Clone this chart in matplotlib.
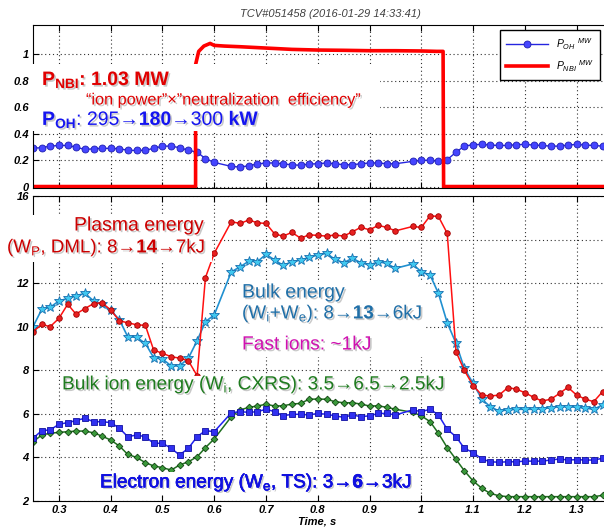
import matplotlib
matplotlib.use('Agg')
import matplotlib.pyplot as plt
import matplotlib.patheffects as pe
from matplotlib.patches import Rectangle

plt.rcParams['font.family'] = ['Liberation Sans', 'DejaVu Sans']
plt.rcParams['mathtext.fontset'] = 'custom'
plt.rcParams['mathtext.rm'] = 'Liberation Sans'
plt.rcParams['mathtext.it'] = 'Liberation Sans:italic'
plt.rcParams['mathtext.bf'] = 'Liberation Sans:bold'

# 1. data
t = [0.250, 0.267, 0.283, 0.300, 0.317, 0.333, 0.350, 0.367, 0.383, 0.400, 0.417,
     0.433, 0.450, 0.467, 0.483, 0.500, 0.517, 0.533, 0.550, 0.567, 0.583, 0.600,
     0.633, 0.650, 0.667, 0.683, 0.700, 0.717, 0.733, 0.750, 0.767, 0.783, 0.800,
     0.817, 0.833, 0.850, 0.867, 0.883, 0.900, 0.917, 0.933, 0.950,
     0.983, 1.000, 1.017, 1.033, 1.050, 1.067, 1.083, 1.100, 1.117, 1.133, 1.150,
     1.167, 1.183, 1.200, 1.217, 1.233, 1.250, 1.267, 1.283, 1.300, 1.317, 1.333, 1.350]

p_oh = [0.290, 0.293, 0.305, 0.310, 0.310, 0.297, 0.280, 0.285, 0.288, 0.288, 0.285,
        0.274, 0.272, 0.274, 0.288, 0.305, 0.305, 0.293, 0.274, 0.259, 0.211, 0.182,
        0.152, 0.147, 0.157, 0.170, 0.178, 0.178, 0.170, 0.165, 0.160, 0.170, 0.172,
        0.178, 0.172, 0.165, 0.165, 0.172, 0.178, 0.178, 0.172, 0.172,
        0.190, 0.198, 0.198, 0.190, 0.203, 0.259, 0.305, 0.316, 0.318, 0.313, 0.310,
        0.310, 0.316, 0.318, 0.313, 0.310, 0.305, 0.305, 0.313, 0.318, 0.313, 0.310, 0.305]

t_nbi = [0.250, 0.564, 0.564, 0.570, 0.580, 0.592, 0.600, 0.620, 0.650, 0.700, 0.750,
         0.800, 0.850, 0.900, 0.950, 1.000, 1.030, 1.042, 1.043, 1.350]
p_nbi = [0.0, 0.0, 0.92, 1.02, 1.06, 1.08, 1.065, 1.060, 1.055, 1.045, 1.035,
         1.030, 1.028, 1.025, 1.025, 1.023, 1.020, 1.020, 0.0, 0.0]

w_plasma = [9.77, 10.11, 10.00, 10.38, 11.03, 10.58, 10.83, 11.06, 11.10, 10.77, 10.27,
            10.18, 10.09, 10.06, 8.93, 8.78, 8.62, 8.56, 8.44, 7.75, 12.25, 13.37,
            14.82, 14.74, 14.90, 14.77, 14.74, 14.25, 14.16, 14.33, 14.06, 14.22, 14.19,
            14.16, 14.21, 14.16, 14.36, 14.56, 14.45, 14.65, 14.56, 14.40,
            14.60, 14.56, 15.09, 15.06, 14.29, 8.85, 8.00, 7.30, 6.86, 6.82, 6.86,
            7.20, 7.14, 6.97, 6.76, 6.59, 6.67, 6.94, 7.22, 6.86, 6.67, 6.56, 7.02]

w_bulk = [10.00, 10.80, 10.89, 11.18, 11.30, 11.42, 11.53, 11.19, 11.04, 10.77, 10.31,
          9.54, 9.51, 9.24, 8.58, 8.52, 8.20, 8.20, 8.55, 9.36, 10.23, 10.54,
          12.52, 12.75, 13.01, 12.98, 13.32, 13.06, 12.82, 12.98, 13.06, 13.18, 13.29,
          13.37, 13.09, 12.94, 13.14, 12.94, 12.83, 12.98, 12.91, 12.68,
          12.88, 12.52, 12.37, 11.53, 10.18, 9.24, 8.09, 7.40, 6.67, 6.33, 6.13,
          6.18, 6.21, 6.21, 6.21, 6.24, 6.28, 6.33, 6.33, 6.30, 6.26, 6.21, 6.41]

w_ion = [4.72, 5.03, 5.11, 5.15, 5.18, 5.21, 5.21, 5.13, 4.98, 4.80, 4.52,
         4.14, 4.00, 3.76, 3.61, 3.53, 3.42, 3.65, 3.80, 4.03, 4.45, 4.85,
         5.87, 6.18, 6.30, 6.36, 6.44, 6.36, 6.37, 6.45, 6.48, 6.67, 6.68,
         6.67, 6.56, 6.51, 6.51, 6.45, 6.36, 6.37, 6.30, 6.21,
         6.07, 5.91, 5.64, 5.11, 4.45, 3.91, 3.39, 2.92, 2.58, 2.35, 2.24,
         2.20, 2.20, 2.20, 2.20, 2.20, 2.20, 2.20, 2.20, 2.20, 2.20, 2.20, 2.26]

w_el = [4.88, 5.23, 5.26, 5.52, 5.60, 5.69, 5.80, 5.64, 5.64, 5.60, 5.34,
        4.95, 5.03, 4.95, 4.65, 4.65, 4.42, 4.11, 4.42, 4.95, 5.23, 5.18,
        6.05, 6.10, 6.07, 6.10, 6.21, 6.10, 5.91, 5.98, 5.98, 5.95, 6.02,
        5.98, 5.91, 5.84, 5.95, 5.87, 5.91, 6.02, 6.02, 5.95,
        6.18, 6.10, 6.21, 5.95, 5.29, 4.95, 4.42, 4.22, 3.93, 3.80, 3.78,
        3.80, 3.80, 3.83, 3.83, 3.83, 3.88, 3.93, 3.88, 3.90, 3.88, 3.88, 3.96]

xticks = [0.3, 0.4, 0.5, 0.6, 0.7, 0.8, 0.9, 1.0, 1.1, 1.2, 1.3]
xticklabels = ['0.3', '0.4', '0.5', '0.6', '0.7', '0.8', '0.9', '1', '1.1', '1.2', '1.3']
yticks_top = [0, 0.2, 0.4, 0.6, 0.8, 1.0]
yticklabels_top = ['0', '0.2', '0.4', '0.6', '0.8', '1']
yticks_bot = [2, 4, 6, 8, 10, 12, 14, 16]
yticklabels_bot = ['2', '4', '6', '8', '10', '12', '', '16']  # 14 sits under the text box


# 2. figure, pixel helpers
W, H = 604, 532
fig = plt.figure(figsize=(W / 100, H / 100), dpi=100)

def fx(x):
    return x / W

def fy(y):
    return 1 - y / H

ax1 = fig.add_axes([fx(33), fy(188), (630 - 33) / W, (188 - 25) / H])
ax2 = fig.add_axes([fx(33), fy(501), (630 - 33) / W, (501 - 196) / H])

grid_style = dict(linestyle=(0, (1, 2.5)), color='#303030', linewidth=0.8)
for ax in (ax1, ax2):
    ax.set_xlim(0.25, 1.403)
    ax.set_xticks(xticks)
    ax.grid(True, **grid_style)
    ax.set_axisbelow(True)
    ax.tick_params(direction='in', top=True, right=True, length=4, width=0.8, pad=3)
    for sp in ax.spines.values():
        sp.set_linewidth(0.8)

# 3. top panel: powers
l_oh, = ax1.plot(t, p_oh, '-o', color='#2525E0', lw=1.0, ms=5,
                 mfc='#4545FF', mec='#1F1FB0', mew=0.6)
l_nbi, = ax1.plot(t_nbi, p_nbi, '-', color='#FF0000', lw=2.6)
ax1.set_ylim(-0.011, 1.219)
ax1.set_yticks(yticks_top)
ax1.set_yticklabels(yticklabels_top, fontweight='bold', fontstyle='italic', fontsize=8)
ax1.set_xticklabels([])

# 4. bottom panel: energies
ax2.plot(t, w_bulk, '-*', color='#2090D0', lw=1.2, ms=7,
         mfc='#40C8F0', mec='#1870B0', mew=0.6)
ax2.plot(t, w_plasma, '-o', color='#FF1010', lw=1.1, ms=4,
         mfc='#E82020', mec='#A00000', mew=0.6)
ax2.plot(t, w_ion, '-D', color='#1F6F1F', lw=1.1, ms=3.4,
         mfc='#3A9A3A', mec='#104010', mew=0.6)
ax2.plot(t, w_el, '-s', color='#2020F0', lw=1.1, ms=4.3,
         mfc='#3030F0', mec='#1010A0', mew=0.6)
ax2.set_ylim(2, 16)
ax2.set_yticks(yticks_bot)
ax2.set_yticklabels(yticklabels_bot, fontweight='bold', fontstyle='italic', fontsize=8)
ax2.set_xticklabels(xticklabels, fontweight='bold', fontstyle='italic', fontsize=8)

# 5. legend, title, xlabel
fig.legend([l_oh, l_nbi], [r'$P_{OH}\ ^{MW}$', r'$P_{NBI}\ ^{MW}$'],
           loc='upper right', bbox_to_anchor=(fx(600), fy(30)),
           fontsize=7.5, handlelength=4, numpoints=1, fancybox=False,
           edgecolor='black', framealpha=1, borderaxespad=0, borderpad=0.6,
           labelspacing=0.6)

fig.text(fx(330), fy(14), 'TCV#051458 (2016-01-29 14:33:41)', ha='center', va='center',
         fontsize=8, fontstyle='italic', color='#404040')
fig.text(fx(317), fy(522), 'Time, s', ha='center', va='center',
         fontsize=8, fontweight='bold', fontstyle='italic')

# 6. white text boxes (cover grid like the slide's text boxes)
for x0, y0, x1, y1 in [(31, 64, 380, 131), (4, 215, 212, 262), (239, 282, 425, 357),
                       (60, 376, 446, 395), (97, 472, 415, 494)]:
    fig.add_artist(Rectangle((fx(x0), fy(y1)), (x1 - x0) / W, (y1 - y0) / H,
                             transform=fig.transFigure, facecolor='white',
                             edgecolor='none', zorder=2.5))

shadow = [pe.withSimplePatchShadow(offset=(1.2, -1.2), shadow_rgbFace='#888888', alpha=0.45)]
ARR = '\u2192'

def label(x, y, s, color, size, effects=shadow, **kw):
    fig.text(fx(x), fy(y), s, color=color, fontsize=size, ha='left', va='center',
             path_effects=effects, zorder=3, **kw)

label(42, 80, r'P$_{\mathbf{NBI}}$: 1.03 MW', '#E00000', 14, fontweight='bold')
label(86, 100, '\u201cion power\u201d\u00d7\u201dneutralization  efficiency\u201d', '#E00000', 11.7)
label(42, 120, r'$\mathbf{P_{OH}}$: 295' + ARR + r'$\mathbf{180}$' + ARR + r'300 $\mathbf{kW}$',
      '#1515F0', 14)
label(74, 226, 'Plasma energy', '#CC0000', 14)
label(7, 248, r'(W$_\mathrm{P}$, DML): 8' + ARR + r'$\mathbf{14}$' + ARR + '7kJ', '#CC0000', 13.5)
label(242, 293, 'Bulk energy', '#1F6FA8', 14)
label(242, 314, r'(W$_\mathrm{i}$+W$_\mathrm{e}$): 8' + ARR + r'$\mathbf{13}$' + ARR + '6kJ',
      '#1F6FA8', 13.6)
label(242, 345, 'Fast ions: ~1kJ', '#D010B0', 13.8)
label(62, 385, r'Bulk ion energy (W$_\mathrm{i}$, CXRS): 3.5' + ARR + '6.5' + ARR + '2.5kJ',
      '#1E7B1E', 13.75)
label(100, 483, r'Electron energy (W$_\mathrm{e}$, TS): 3' + ARR + r'$\mathbf{6}$' + ARR + '3kJ',
      '#1010E0', 13.7,
      effects=shadow + [pe.Stroke(linewidth=0.35, foreground='#1010E0'), pe.Normal()])

fig.savefig('out.png', dpi=100)
